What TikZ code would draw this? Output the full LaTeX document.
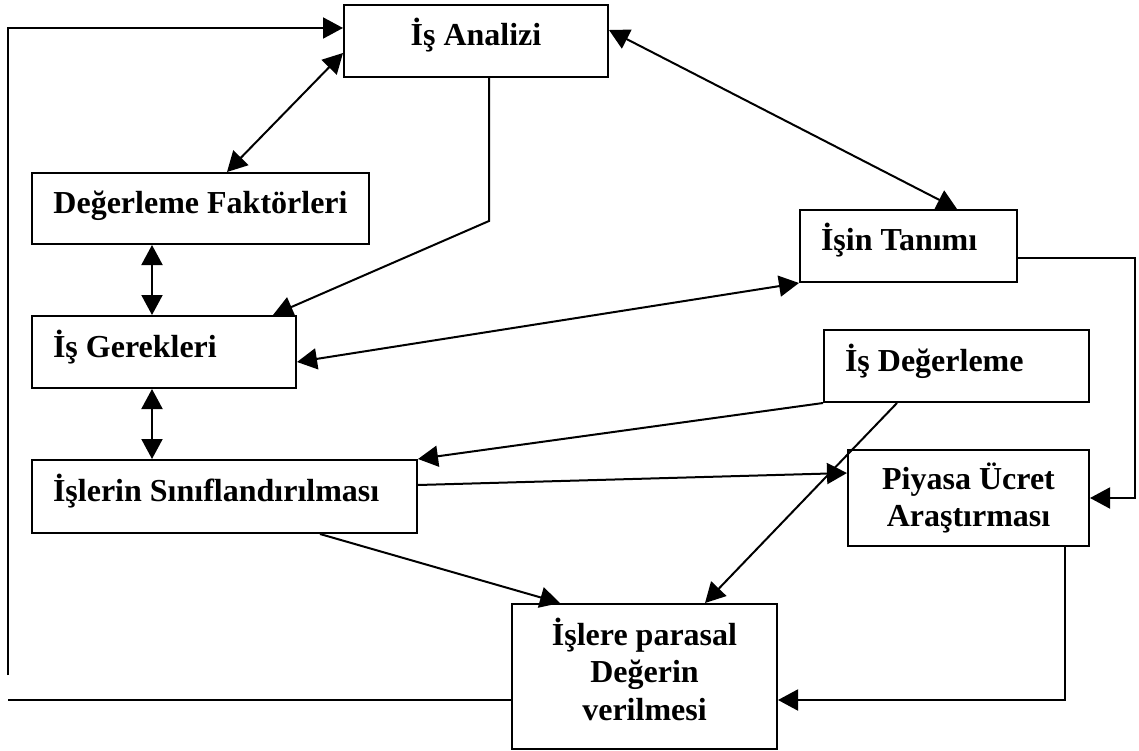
\documentclass[tikz,border=0pt]{standalone}
\usepackage{fontspec}
\setmainfont{Liberation Serif}
\usetikzlibrary{arrows.meta,calc}
\begin{document}
\begin{tikzpicture}[x=1pt,y=-1pt,
  box/.style={draw, line width=2pt, inner sep=0pt, font=\fontsize{32}{37.5}\selectfont\bfseries},
  lbox/.style={box, align=flush left, inner xsep=21pt, text height=22pt, text depth=12pt},
  cbox/.style={box, text height=22pt, text depth=12pt},
  mbox/.style={box, align=flush center},
  conn/.style={line width=2pt},
  arr/.style={conn, -{Triangle[length=20pt,width=21pt]}},
  darr/.style={conn, {Triangle[length=20pt,width=21pt]}-{Triangle[length=20pt,width=21pt]}}]
\useasboundingbox (0,0) rectangle (1139,751);

\node[cbox, minimum width=264pt, minimum height=72pt] (ia) at (476,41) {İş Analizi};
\node[cbox, minimum width=337pt, minimum height=71pt] (df) at (200.5,208.5) {Değerleme Faktörleri};
\node[lbox, text width=175pt, minimum height=72pt] (it) at (908.5,246) {İşin Tanımı};
\node[lbox, text width=222pt, minimum height=72pt] (ig) at (164,352) {İş Gerekleri};
\node[lbox, text width=223pt, minimum height=72pt] (id) at (956.5,366) {İş Değerleme};
\node[lbox, text width=343pt, minimum height=73pt] (isn) at (224.5,496.5) {İşlerin Sınıflandırılması};
\node[mbox, minimum width=241pt, minimum height=96pt] (py) at (968.5,498) {Piyasa Ücret\\Araştırması};
\node[mbox, minimum width=265pt, minimum height=145pt, text depth=15pt] (ip) at (644.5,676.5) {İşlere parasal\\Değerin\\verilmesi};

% feedback loop on the left
\coordinate (fbA) at (8,700);
\coordinate (fbB) at (8,675);
\coordinate (fbC) at (8,28);
\draw[conn] ([yshift=-23.5pt]ip.west) -- (fbA);
\draw[arr] (fbB) -- (fbC) -- ([yshift=13pt]ia.west);

\draw[darr] ([yshift=-12pt]ia.west) -- ([xshift=26.5pt]df.north);
\draw[arr] ([xshift=13pt]ia.south) -- ++(0,143) -- ([xshift=109pt]ig.north);
\draw[darr] ([yshift=11pt]ia.east) -- ([xshift=48.5pt]it.north);

\coordinate (colx) at (152,0);
\draw[darr] (df.south -| colx) -- (ig.north -| colx);
\draw[darr] (ig.south -| colx) -- (isn.north -| colx);

\draw[darr] (it.south west) -- ([yshift=-10pt]ig.east);

\coordinate (itR) at ([yshift=-12pt]it.east);
\coordinate (rx) at (1135,0);
\draw[arr] (itR) -- (itR -| rx) -- (py.east -| rx) -- (py.east);

\draw[arr] (id.south west) -- (isn.north east);
\draw[arr] ([xshift=-59.5pt]id.south) -- ([xshift=60.5pt]ip.north);
\draw[arr] ([yshift=11.5pt]isn.east) -- ([yshift=25pt]py.west);
\draw[arr] ([xshift=95.5pt]isn.south) -- ([xshift=-84.5pt]ip.north);

\coordinate (pyB) at ([xshift=96.5pt]py.south);
\coordinate (ipR) at ([yshift=-23.5pt]ip.east);
\draw[arr] (pyB) -- (pyB |- ipR) -- (ipR);
\end{tikzpicture}
\end{document}
